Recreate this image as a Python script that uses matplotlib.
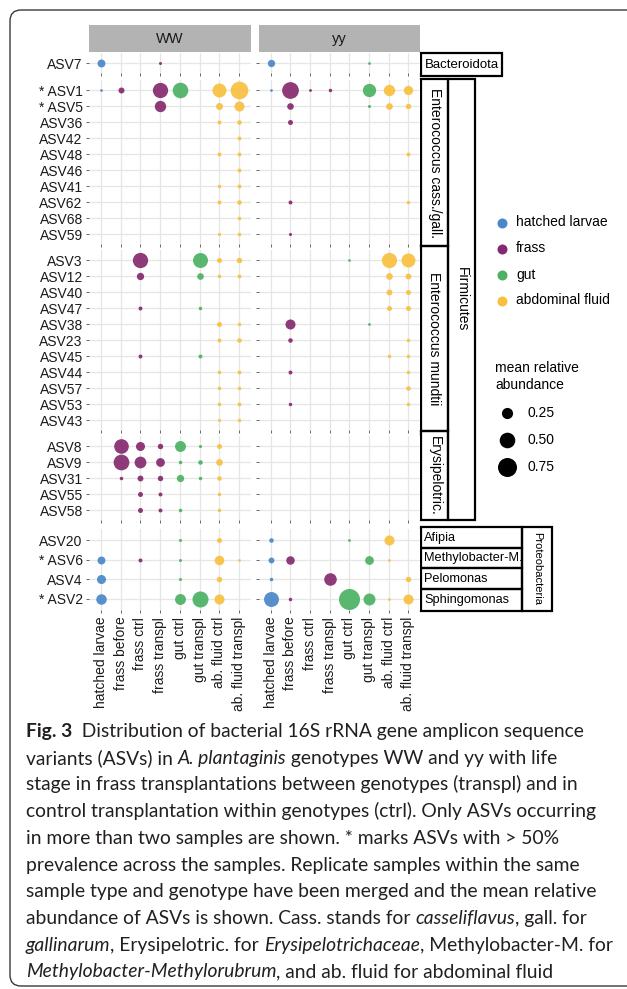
import numpy as np
import matplotlib.pyplot as plt
from matplotlib.patches import Rectangle, FancyBboxPatch

plt.rcParams['font.family'] = ['Liberation Sans', 'DejaVu Sans']

# ---- data ----
sample_types = ["hatched larvae", "frass before", "frass ctrl", "frass transpl",
                "gut ctrl", "gut transpl", "ab. fluid ctrl", "ab. fluid transpl"]
sample_group = ["hatched larvae", "frass", "frass", "frass",
                "gut", "gut", "abdominal fluid", "abdominal fluid"]
genotypes = ["WW", "yy"]
colors = {"hatched larvae": "#4A87C9", "frass": "#86296E",
          "gut": "#4BB163", "abdominal fluid": "#F8C03F"}
prevalent = ["ASV1", "ASV5", "ASV6", "ASV2"]

asv_bacteroidota = ["ASV7"]
asv_cass_gall = ["ASV1", "ASV5", "ASV36", "ASV42", "ASV48", "ASV46", "ASV41",
                 "ASV62", "ASV68", "ASV59"]
asv_mundtii = ["ASV3", "ASV12", "ASV40", "ASV47", "ASV38", "ASV23", "ASV45",
               "ASV44", "ASV57", "ASV53", "ASV43"]
asv_erysipelotric = ["ASV8", "ASV9", "ASV31", "ASV55", "ASV58"]
asv_proteobacteria = ["ASV20", "ASV6", "ASV4", "ASV2"]
proteo_genera = ["Afipia", "Methylobacter-M.", "Pelomonas", "Sphingomonas"]

# mean relative abundance (rows = ASVs, columns = sample_types)
ww_bacteroidota = [[0.12, 0, 0, 0.006, 0, 0, 0, 0]]
yy_bacteroidota = [[0.10, 0, 0, 0, 0, 0.003, 0, 0]]

ww_cass_gall = [
    [0.002, 0.063, 0, 0.48, 0.50, 0, 0.40, 0.65],
    [0, 0, 0, 0.26, 0, 0, 0.09, 0.20],
    [0, 0, 0, 0, 0, 0, 0.02, 0.03],
    [0, 0, 0, 0, 0, 0, 0, 0.02],
    [0, 0, 0, 0, 0, 0, 0.02, 0.02],
    [0, 0, 0, 0, 0, 0, 0, 0.02],
    [0, 0, 0, 0, 0, 0, 0.013, 0.02],
    [0, 0, 0, 0, 0, 0, 0.02, 0.03],
    [0, 0, 0, 0, 0, 0, 0, 0.015],
    [0, 0, 0, 0, 0, 0, 0.008, 0.015],
]
yy_cass_gall = [
    [0.002, 0.58, 0.004, 0.013, 0, 0.36, 0.26, 0.17],
    [0, 0.08, 0, 0, 0, 0.006, 0.08, 0.05],
    [0, 0.04, 0, 0, 0, 0, 0, 0],
    [0, 0, 0, 0, 0, 0, 0, 0],
    [0, 0, 0, 0, 0, 0, 0, 0.02],
    [0, 0, 0, 0, 0, 0, 0, 0],
    [0, 0, 0, 0, 0, 0, 0, 0],
    [0, 0.02, 0, 0, 0, 0, 0, 0.013],
    [0, 0, 0, 0, 0, 0, 0, 0],
    [0, 0.007, 0, 0, 0, 0, 0, 0],
]

ww_mundtii = [
    [0, 0, 0.48, 0, 0, 0.46, 0.04, 0.05],
    [0, 0, 0.10, 0, 0, 0.08, 0.013, 0.02],
    [0, 0, 0, 0, 0, 0, 0, 0],
    [0, 0, 0.02, 0, 0, 0.013, 0, 0],
    [0, 0, 0, 0, 0, 0, 0.04, 0.013],
    [0, 0, 0, 0, 0, 0, 0.02, 0.03],
    [0, 0, 0.02, 0, 0, 0.02, 0, 0],
    [0, 0, 0, 0, 0, 0, 0.013, 0.02],
    [0, 0, 0, 0, 0, 0, 0.013, 0.013],
    [0, 0, 0, 0, 0, 0, 0.013, 0.02],
    [0, 0, 0, 0, 0, 0, 0.008, 0.013],
]
yy_mundtii = [
    [0, 0, 0, 0, 0.002, 0, 0.48, 0.40],
    [0, 0, 0, 0, 0, 0, 0.08, 0.06],
    [0, 0, 0, 0, 0, 0, 0.06, 0.04],
    [0, 0, 0, 0, 0, 0, 0.04, 0.04],
    [0, 0.20, 0, 0, 0, 0.003, 0, 0],
    [0, 0.03, 0, 0, 0, 0, 0, 0.013],
    [0, 0, 0, 0, 0, 0, 0.013, 0.013],
    [0, 0.02, 0, 0, 0, 0, 0, 0.013],
    [0, 0, 0, 0, 0, 0, 0, 0.03],
    [0, 0.013, 0, 0, 0, 0, 0, 0.013],
    [0, 0, 0, 0, 0, 0, 0, 0],
]

ww_erysipelotric = [
    [0, 0.44, 0.16, 0.05, 0.24, 0.007, 0.04, 0],
    [0, 0.51, 0.28, 0.15, 0.013, 0.03, 0.08, 0],
    [0, 0.013, 0.06, 0.05, 0.10, 0.013, 0.03, 0],
    [0, 0, 0.04, 0.02, 0, 0, 0.013, 0],
    [0, 0, 0.04, 0.02, 0.013, 0, 0.013, 0],
]
yy_erysipelotric = [[0] * 8 for _ in range(5)]

ww_proteobacteria = [
    [0, 0, 0, 0, 0.006, 0, 0.04, 0],
    [0.12, 0, 0.02, 0, 0.006, 0, 0.18, 0.003],
    [0.16, 0, 0, 0, 0.006, 0, 0.05, 0],
    [0.22, 0, 0, 0, 0.24, 0.53, 0.20, 0],
]
yy_proteobacteria = [
    [0.03, 0, 0, 0, 0.003, 0, 0.20, 0],
    [0.06, 0.14, 0, 0, 0, 0.15, 0.003, 0],
    [0.013, 0, 0, 0.32, 0, 0, 0, 0.05],
    [0.46, 0.013, 0, 0, 0.92, 0.29, 0.003, 0.20],
]

legend_sizes = [0.25, 0.50, 0.75]

# ---- layout (pixels) ----
W, H = 627, 989
fig = plt.figure(figsize=(W / 100, H / 100), dpi=100)

def px_axes(x0, y0, x1, y1):
    return fig.add_axes([x0 / W, 1 - y1 / H, (x1 - x0) / W, (y1 - y0) / H])

def dot_area(v):
    d = np.sqrt(6.25 + 473 * np.asarray(v))  # diameter in px
    return (d * 0.72) ** 2

panel_x = {"WW": (89, 251), "yy": (259, 420)}
groups = [
    (asv_bacteroidota, ww_bacteroidota, yy_bacteroidota, 53.5, 16),
    (asv_cass_gall, ww_cass_gall, yy_cass_gall, 80.4, 16),
    (asv_mundtii, ww_mundtii, yy_mundtii, 250.4, 16),
    (asv_erysipelotric, ww_erysipelotric, yy_erysipelotric, 436.4, 16),
    (asv_proteobacteria, ww_proteobacteria, yy_proteobacteria, 528.5, 19.5),
]

for gi, (asvs, ww, yy, top, step) in enumerate(groups):
    n = len(asvs)
    bottom = top + (n + 0.2) * step
    for geno, vals in zip(genotypes, [ww, yy]):
        x0, x1 = panel_x[geno]
        ax = px_axes(x0, top, x1, bottom)
        vals = np.array(vals, dtype=float)
        for i in range(n):
            for j in range(8):
                if vals[i, j] > 0:
                    ax.scatter(j, i, s=dot_area(vals[i, j]),
                               color=colors[sample_group[j]], alpha=0.92,
                               lw=0, zorder=3, clip_on=False)
        ax.set_xlim(-0.6, 7.6)
        ax.set_ylim(n - 0.4, -0.6)
        ax.set_xticks(range(8))
        ax.set_yticks(range(n))
        ax.grid(True, color="#E6E6E6", lw=0.9)
        ax.set_axisbelow(True)
        for sp in ax.spines.values():
            sp.set_visible(False)
        ax.tick_params(length=2.5, width=0.6, color="#4D4D4D",
                       labelsize=10, labelcolor="#1A1A1A", pad=2)
        if geno == "WW":
            ax.set_yticklabels([("* " + a) if a in prevalent else a for a in asvs])
        else:
            ax.set_yticklabels([])
        if gi == len(groups) - 1:
            ax.set_xticklabels(sample_types, rotation=90)
        else:
            ax.set_xticklabels([])

# overlay in pixel coordinates
ov = fig.add_axes([0, 0, 1, 1], zorder=-1)
ov.set_xlim(0, W)
ov.set_ylim(H, 0)
ov.axis("off")

# figure frame
ov.add_patch(FancyBboxPatch((10, 10), 660, 976,
                            boxstyle="round,pad=0,rounding_size=11",
                            fill=False, ec="#3A3A3A", lw=1.0))

# column strips
for geno in genotypes:
    x0, x1 = panel_x[geno]
    ov.add_patch(Rectangle((x0, 25), x1 - x0, 27, fc="#B3B3B3", ec="none"))
    ov.text((x0 + x1) / 2, 39, geno, ha="center", va="center", fontsize=10.5,
            color="#1A1A1A")

# row strips
def box(x0, y0, x1, y1):
    ov.add_patch(Rectangle((x0, y0), x1 - x0, y1 - y0, fill=False,
                           ec="black", lw=1.6))

box(421, 53, 502, 76)
ov.text(425, 65, "Bacteroidota", ha="left", va="center", fontsize=9.5)
row_strips = [("Enterococcus cass./gall.", 79, 246),
              ("Enterococcus mundtii", 246, 431),
              ("Erysipelotric.", 431, 520)]
for label, y0, y1 in row_strips:
    box(421, y0, 448, y1)
    ov.text(434.5, (y0 + y1) / 2, label, rotation=-90, ha="center",
            va="center", fontsize=10)
box(448, 79, 475, 520)
ov.text(461.5, 299.5, "Firmicutes", rotation=-90, ha="center", va="center",
        fontsize=10)

proteo_edges = [527, 548, 568, 589, 611]
for k, g in enumerate(proteo_genera):
    box(421, proteo_edges[k], 522, proteo_edges[k + 1])
    ov.text(424, (proteo_edges[k] + proteo_edges[k + 1]) / 2 + 0.5, g,
            ha="left", va="center", fontsize=9.2)
box(522, 527, 552, 611)
ov.text(537, 569, "Proteobacteria", rotation=-90, ha="center", va="center",
        fontsize=8)

# colour legend
legend_labels = ["hatched larvae", "frass", "gut", "abdominal fluid"]
for k, lab in enumerate(legend_labels):
    y = 222.5 + 26 * k
    ov.scatter(502, y, s=(10 * 0.72) ** 2, color=colors[lab], lw=0)
    ov.text(516, y, lab, ha="left", va="center", fontsize=10)

# size legend
ov.text(495, 368, "mean relative", ha="left", va="center", fontsize=10)
ov.text(495, 385, "abundance", ha="left", va="center", fontsize=10)
for k, v in enumerate(legend_sizes):
    y = 413 + 27 * k
    ov.scatter(507, y, s=dot_area(v), color="black", lw=0)
    ov.text(528, y, f"{v:.2f}", ha="left", va="center", fontsize=10)

# caption
renderer = fig.canvas.get_renderer()
cap_font = ["Lato", "DejaVu Sans"]

def text_width(s, size, weight="normal", style="normal"):
    t = ov.text(0, 0, "|" + s + "|", fontsize=size, family=cap_font,
                weight=weight, style=style)
    t2 = ov.text(0, 0, "||", fontsize=size, family=cap_font,
                 weight=weight, style=style)
    w = t.get_window_extent(renderer).width - t2.get_window_extent(renderer).width
    t.remove()
    t2.remove()
    return w

caption = [
    [("Fig. 3", "b"), ("  Distribution of bacterial 16S rRNA gene amplicon sequence", "n")],
    [("variants (ASVs) in ", "n"), ("A. plantaginis", "i"), (" genotypes WW and yy with life", "n")],
    [("stage in frass transplantations between genotypes (transpl) and in", "n")],
    [("control transplantation within genotypes (ctrl). Only ASVs occurring", "n")],
    [("in more than two samples are shown. * marks ASVs with > 50%", "n")],
    [("prevalence across the samples. Replicate samples within the same", "n")],
    [("sample type and genotype have been merged and the mean relative", "n")],
    [("abundance of ASVs is shown. Cass. stands for ", "n"), ("casseliflavus", "i"), (", gall. for", "n")],
    [("gallinarum", "i"), (", Erysipelotric. for ", "n"), ("Erysipelotrichaceae", "i"), (", Methylobacter-M. for", "n")],
    [("Methylobacter-Methylorubrum", "i"), (", and ab. fluid for abdominal fluid", "n")],
]
ref_w = text_width(caption[3][0][0], 10)
cap_size = 10 * 572 / ref_w

for li, parts in enumerate(caption):
    x = 26
    y = 737 + 26.7 * li
    for s, st in parts:
        kw = dict(weight="bold" if st == "b" else "normal",
                  style="italic" if st == "i" else "normal")
        ov.text(x, y, s, fontsize=cap_size, family=cap_font, ha="left",
                va="baseline", color="#231F20", **kw)
        x += text_width(s, cap_size, **kw)

fig.savefig("out.png", dpi=100)
